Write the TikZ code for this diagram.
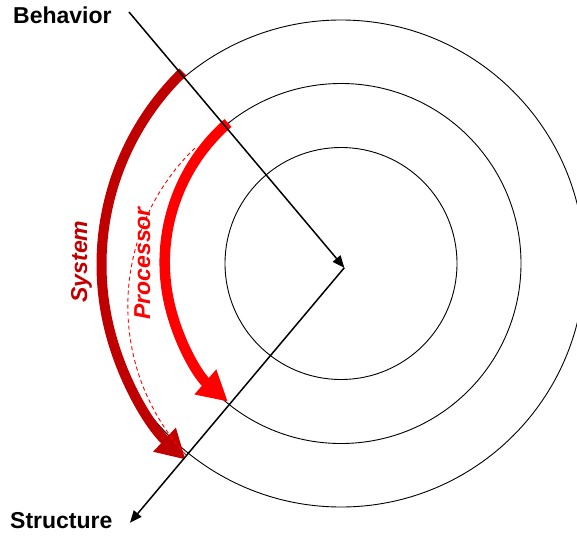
\documentclass[tikz,border=0pt]{standalone}
\usepackage{fontspec}
\setmainfont{Liberation Sans}
\usetikzlibrary{arrows.meta,calc}
\definecolor{sysred}{HTML}{C00000}
\definecolor{procred}{HTML}{FF0000}
\begin{document}
\begin{tikzpicture}[x=1pt,y=-1pt,
  ring/.style={draw=black,line width=0.9pt},
  axis/.style={draw=black,line width=1.5pt,-{Triangle[length=12pt,width=10pt]}},
  sysarc/.style={draw=sysred,line width=10pt,-{Triangle[length=29pt,width=31pt]}},
  procarc/.style={draw=procred,line width=10.5pt,-{Triangle[length=30pt,width=31pt]}},
  guide/.style={draw=procred,line width=0.9pt,dash pattern=on 4pt off 3pt},
  lbl/.style={font=\fontsize{23}{27}\selectfont\bfseries,inner sep=0pt},
  arclbl/.style={font=\fontsize{23}{27}\selectfont\bfseries\itshape,inner sep=0pt,rotate=90,anchor=base}]
\useasboundingbox (0,0) rectangle (577,535);
\clip (0,0) rectangle (577,535);
% centres
\coordinate (c) at (341,263.5);
\coordinate (sc) at (370,264.5);
\coordinate (pc) at (349.8,262.4);
\coordinate (dc) at (347.3,306);
% rings
\draw[ring] (c) circle[radius=116];
\draw[ring] (c) circle[radius=180];
\draw[ring] (c) circle[radius=243.5];
% System arc
\draw[sysarc] ($(sc)+(225.8:268.5)$) arc[start angle=225.8,end angle=133.4,radius=268.5];
% dashed guide
\draw[guide] ($(dc)+(226.05:219.5)$) arc[start angle=226.05,end angle=136.5,radius=219.5];
% Processor arc
\draw[procarc] ($(pc)+(228.85:185.1)$) arc[start angle=228.85,end angle=131.2,radius=185.1];
% axes
\coordinate (b0) at (129,12);
\coordinate (o) at (344.3,267.7);
\coordinate (s0) at (130,522.7);
\draw[axis] (b0) -- (o);
\draw[axis] (o) -- (s0);
% labels
\node[lbl,anchor=base west] (beh) at (13,24) {Behavior};
\node[lbl,anchor=base west] (str) at (10,528.3) {Structure};
\node[arclbl,text=sysred] (sys) at (87,261.6) {System};
\node[arclbl,text=procred] (proc) at (150,263.4) {Processor};
\end{tikzpicture}
\end{document}
